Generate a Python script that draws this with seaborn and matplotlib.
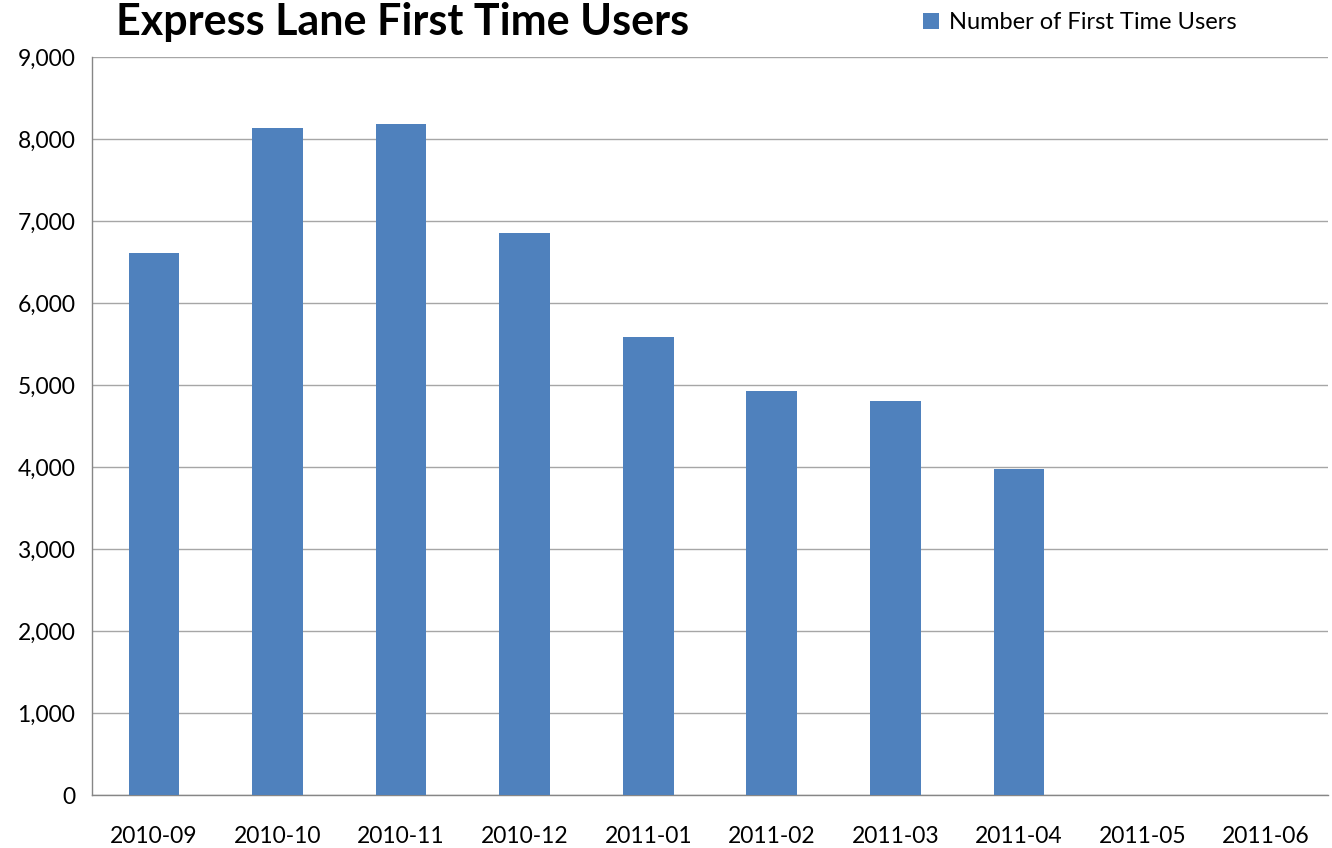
import numpy as np
import pandas as pd
import matplotlib
matplotlib.use("Agg")
import matplotlib.pyplot as plt
import seaborn as sns
from matplotlib.ticker import FuncFormatter, FixedLocator
from matplotlib.patches import Patch

months = ['2010-09', '2010-10', '2010-11', '2010-12', '2011-01',
          '2011-02', '2011-03', '2011-04', '2011-05', '2011-06']
first_time_users = [6610, 8130, 8180, 6850, 5585, 4925, 4805, 3970, 0, 0]
series_name = 'Number of First Time Users'
title = 'Express Lane First Time Users'

bar_color = '#4F81BD'

sns.set_style('white')
plt.rcParams['font.family'] = ['Lato', 'DejaVu Sans']
plt.rcParams['text.color'] = 'black'
plt.rcParams['xtick.labelcolor'] = 'black'
plt.rcParams['ytick.labelcolor'] = 'black'

df = pd.DataFrame({'month': months, 'users': first_time_users})

fig = plt.figure(figsize=(13.32, 8.48), dpi=100)
ax = fig.add_axes([0.0691, 0.0625, 0.9279, 0.8703])

sns.barplot(data=df, x='month', y='users', color=bar_color, width=0.41,
            saturation=1, linewidth=0, ax=ax, zorder=3)

ax.set_ylim(0, 9000)
ax.set_xlim(-0.5, len(months) - 0.5)
ax.set_yticks(np.arange(0, 9001, 1000))
ax.yaxis.set_major_formatter(FuncFormatter(lambda v, p: f'{int(v):,}'))
ax.grid(axis='y', color='#A6A6A6', linewidth=1, zorder=0)
ax.set_axisbelow(True)

# ticks at the category boundaries
ax.xaxis.set_minor_locator(FixedLocator(np.arange(-0.5, len(months), 1.0)))
ax.tick_params(axis='x', which='major', length=0, pad=22, labelsize=16.5, labelcolor='black')
ax.tick_params(axis='x', which='minor', length=7, color='#868686', width=1, direction='out')
ax.tick_params(axis='y', which='major', length=6, color='#868686', width=1,
               direction='out', labelsize=16.5, pad=6, labelcolor='black')

for side in ['top', 'right']:
    ax.spines[side].set_visible(False)
for side in ['left', 'bottom']:
    ax.spines[side].set_color('#868686')
    ax.spines[side].set_linewidth(1)

ax.set_xlabel('')
ax.set_ylabel('')

fig.text(0.302, 0.998, title, ha='center', va='top', fontsize=31,
         fontweight='bold', color='black')

handle = Patch(facecolor=bar_color, edgecolor='none', label=series_name)
fig.legend(handles=[handle], loc='center left', bbox_to_anchor=(0.686, 0.973),
           frameon=False, fontsize=17, handlelength=0.65, handleheight=0.65,
           handletextpad=0.45, borderaxespad=0, labelcolor='black')

fig.savefig('out.png', dpi=100)
